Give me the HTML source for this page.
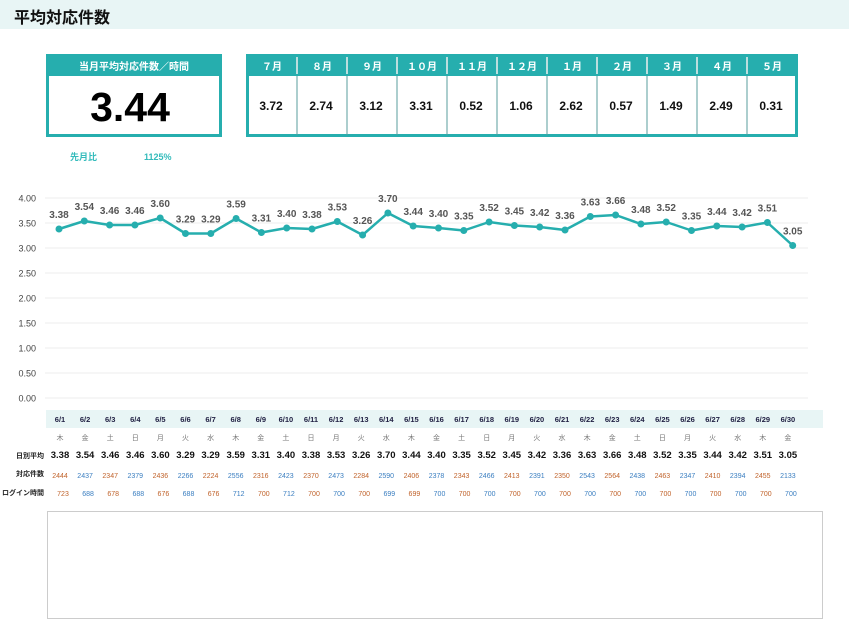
<!DOCTYPE html>
<html><head><meta charset="utf-8"><style>
body{margin:0;width:849px;height:624px;background:#fff;font-family:"Liberation Sans","Noto Sans CJK JP",sans-serif;overflow:hidden;position:relative}
.t{position:absolute;left:0;top:0;width:849px;height:29px;background:#e8f5f5}
.t span{position:absolute;left:14px;top:4px;font-size:16px;font-weight:bold;color:#111}
</style></head><body>
<div class="t"><span>平均対応件数</span></div>
<svg id="s" width="849" height="624" style="position:absolute;left:0;top:0" font-family="Liberation Sans, Noto Sans CJK JP, sans-serif"></svg>
<script>
var v=[3.38,3.54,3.46,3.46,3.60,3.29,3.29,3.59,3.31,3.40,3.38,3.53,3.26,3.70,3.44,3.40,3.35,3.52,3.45,3.42,3.36,3.63,3.66,3.48,3.52,3.35,3.44,3.42,3.51,3.05];
var c=[2444,2437,2347,2379,2436,2266,2224,2556,2316,2423,2370,2473,2284,2590,2406,2378,2343,2466,2413,2391,2350,2543,2564,2438,2463,2347,2410,2394,2455,2133];
var l=[723,688,678,688,676,688,676,712,700,712,700,700,700,699,699,700,700,700,700,700,700,700,700,700,700,700,700,700,700,700];
var wd="木金土日月火水木金土日月火水木金土日月火水木金土日月火水木金".split("");
var h='';
h+='<rect x="47.5" y="55.5" width="173" height="80" fill="#fff" stroke="#26aeae" stroke-width="3"/><rect x="46" y="54" width="176" height="22" fill="#26aeae"/>';
h+='<text x="134" y="70" font-size="10" font-weight="bold" fill="#fff" text-anchor="middle">当月平均対応件数／時間</text>';
h+='<text x="130" y="121" font-size="41" font-weight="bold" fill="#000" text-anchor="middle">3.44</text>';
h+='<text x="70" y="160" font-size="9" font-weight="bold" fill="#3bb">先月比</text><text x="144" y="160" font-size="9" font-weight="bold" fill="#3bb">1125%</text>';
var m=["７月","８月","９月","１０月","１１月","１２月","１月","２月","３月","４月","５月"],mv=["3.72","2.74","3.12","3.31","0.52","1.06","2.62","0.57","1.49","2.49","0.31"];
h+='<rect x="247.5" y="55.5" width="549" height="80" fill="#fff" stroke="#26aeae" stroke-width="3"/><rect x="246" y="54" width="552" height="22" fill="#26aeae"/>';
for(var i=0;i<11;i++){var x=247+i*50;
 if(i>0){h+='<line x1="'+x+'" y1="57" x2="'+x+'" y2="74" stroke="#eee" stroke-width="1.5"/><line x1="'+x+'" y1="76" x2="'+x+'" y2="135" stroke="#5a9e9e" stroke-width="1"/>';}
 h+='<text x="'+(x+25)+'" y="70" font-size="10" font-weight="bold" fill="#fff" text-anchor="middle">'+m[i]+'</text>';
 h+='<text x="'+(x+24)+'" y="110" font-size="12" font-weight="bold" fill="#111" text-anchor="middle">'+mv[i]+'</text>';}
for(var k=0;k<=8;k++){var y=398-k*25;h+='<line x1="45" x2="808" y1="'+y+'" y2="'+y+'" stroke="#eee"/><text x="36" y="'+(y+3.5)+'" font-size="9" fill="#444" text-anchor="end">'+(k/2).toFixed(2)+'</text>';}
var pts=[];for(var i=0;i<30;i++){pts.push([59+i*25.3,398-v[i]*50]);}
h+='<polyline fill="none" stroke="#26aeae" stroke-width="2.5" stroke-linejoin="round" points="'+pts.map(p=>p.join(',')).join(' ')+'"/>';
pts.forEach(function(p,i){h+='<circle cx="'+p[0]+'" cy="'+p[1]+'" r="3.5" fill="#26aeae"/><text x="'+p[0]+'" y="'+(p[1]-11)+'" font-size="10" font-weight="bold" fill="#555" text-anchor="middle">'+v[i].toFixed(2)+'</text>';});
h+='<rect x="46" y="410" width="777" height="18" fill="#e8f5f5"/>';
h+='<text x="44" y="458" font-size="7" font-weight="bold" fill="#222" text-anchor="end">日別平均</text><text x="44" y="476" font-size="7" font-weight="bold" fill="#222" text-anchor="end">対応件数</text><text x="44" y="495" font-size="7" font-weight="bold" fill="#222" text-anchor="end">ログイン時間</text>';
for(var i=0;i<30;i++){var x=60+i*25.1;
 h+='<text x="'+x+'" y="422" font-size="7.5" font-weight="bold" fill="#224" text-anchor="middle">6/'+(i+1)+'</text>';
 h+='<text x="'+x+'" y="440" font-size="7" fill="#777" text-anchor="middle">'+wd[i]+'</text>';
 h+='<text x="'+x+'" y="458" font-size="9.5" font-weight="bold" fill="#111" text-anchor="middle">'+v[i].toFixed(2)+'</text>';
 var col=i%2?"#3a7ec0":"#c0622a";
 h+='<text x="'+x+'" y="478" font-size="7" fill="'+col+'" text-anchor="middle">'+c[i]+'</text>';
 h+='<text x="'+(x+3)+'" y="496" font-size="7" fill="'+col+'" text-anchor="middle">'+l[i]+'</text>';}
h+='<rect x="47.5" y="511.5" width="775" height="107" fill="none" stroke="#ccc"/>';
document.getElementById('s').innerHTML=h;
</script>
</body></html>
